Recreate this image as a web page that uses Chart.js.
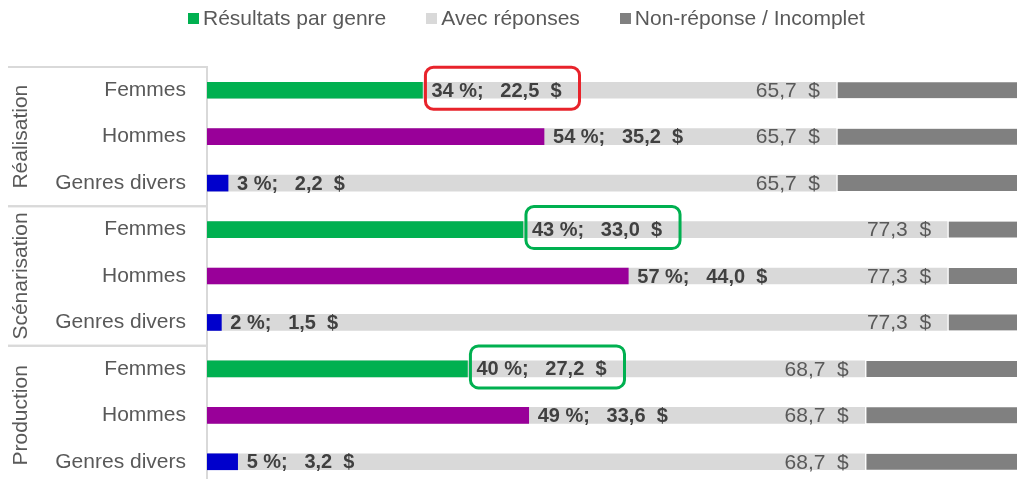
<!DOCTYPE html>
<html lang="fr">
<head>
<meta charset="utf-8">
<title>Résultats par genre</title>
<script src="https://cdn.jsdelivr.net/npm/chart.js@4.4.1/dist/chart.umd.min.js"></script>
<style>
  html, body { margin: 0; padding: 0; background: #fff; }
  #wrap { position: relative; width: 1017px; height: 479px; overflow: hidden; }
  #chart { position: absolute; left: 0; top: 0; }
  #legend {
    position: absolute; left: 188px; top: 7px; display: flex; gap: 40px;
    font: 21px "Liberation Sans", Arial, sans-serif; color: #595959; line-height: 22px;
  }
  #legend span { display: inline-flex; align-items: center; }
  #legend i { display: inline-block; width: 11px; height: 11px; margin-right: 4px; }
</style>
</head>
<body>
<div id="wrap">
  <canvas id="chart" width="1017" height="487"></canvas>
  <div id="legend"></div>
</div>
<script>
/* ── Données ── */
const GROUPS  = ['Réalisation', 'Scénarisation', 'Production'];
const GENRES  = ['Femmes', 'Hommes', 'Genres divers'];
const PCT     = [34, 54, 3, 43, 57, 2, 40, 49, 5];
const RESULT  = [22.5, 35.2, 2.2, 33.0, 44.0, 1.5, 27.2, 33.6, 3.2];
const TOTAL   = [65.7, 65.7, 65.7, 77.3, 77.3, 77.3, 68.7, 68.7, 68.7];
const X_MAX   = 84.6;   // fin visible de la barre « Non-réponse »
const SERIES  = ['Résultats par genre', 'Avec réponses', 'Non-réponse / Incomplet'];

const GENRE_COLORS = ['#00b050', '#990099', '#0000cc'];
const LIGHT = '#d9d9d9';
const DARK  = '#808080';
const FONT  = '"Liberation Sans", Arial, sans-serif';

// encadrés autour de certaines étiquettes
const HIGHLIGHTS = [
  { index: 0, color: '#e8232b' },
  { index: 3, color: '#00b050' },
  { index: 6, color: '#00b050' },
];

const LABELS = GROUPS.flatMap(() => GENRES);

/* ── Utilitaires ── */
function fmt(v) {
  return v.toFixed(1).replace('.', ',');
}

/* ── Légende ── */
function renderLegend() {
  const colors = [GENRE_COLORS[0], LIGHT, DARK];
  document.getElementById('legend').innerHTML = SERIES
    .map((s, i) => `<span><i style="background:${colors[i]}"></i>${s}</span>`)
    .join('');
}

/* ── Étiquettes des barres ── */
const barLabels = {
  id: 'barLabels',
  afterDatasetsDraw(chart) {
    const { ctx } = chart;
    const res  = chart.getDatasetMeta(0);
    const avec = chart.getDatasetMeta(1);
    ctx.save();
    ctx.textBaseline = 'middle';

    ctx.font = '21px ' + FONT;
    ctx.fillStyle = '#595959';
    ctx.textAlign = 'right';
    avec.data.forEach((bar, i) => {
      ctx.fillText(fmt(TOTAL[i]) + '  $', bar.x - 16, bar.y + 1);
    });

    ctx.font = 'bold 20px ' + FONT;
    ctx.textAlign = 'left';
    res.data.forEach((bar, i) => {
      const txt = PCT[i] + ' %;   ' + fmt(RESULT[i]) + '  $';
      ctx.fillStyle = '#404040';
      ctx.fillText(txt, bar.x + 9, bar.y + 1);
      const hl = HIGHLIGHTS.find(h => h.index === i);
      if (hl) {
        const w = ctx.measureText(txt).width;
        ctx.strokeStyle = hl.color;
        ctx.lineWidth = 3;
        ctx.beginPath();
        ctx.roundRect(bar.x + 3, bar.y - 23, w + 24, 42, 8);
        ctx.stroke();
      }
    });
    ctx.restore();
  },
};

/* ── Axe des groupes ── */
const groupAxis = {
  id: 'groupAxis',
  afterDraw(chart) {
    const { ctx, chartArea } = chart;
    const y = chart.scales.y;
    const step = y.getPixelForValue(1) - y.getPixelForValue(0);
    ctx.save();
    ctx.strokeStyle = LIGHT;
    ctx.lineWidth = 2;
    GROUPS.forEach((g, gi) => {
      const first = gi * GENRES.length;
      const last  = first + GENRES.length - 1;
      const top = y.getPixelForValue(first) - step / 2;
      const bot = y.getPixelForValue(last) + step / 2;
      [top, bot].forEach(py => {
        ctx.beginPath();
        ctx.moveTo(8, py);
        ctx.lineTo(chartArea.left - 1, py);
        ctx.stroke();
      });
      ctx.save();
      ctx.translate(21, (top + bot) / 2);
      ctx.rotate(-Math.PI / 2);
      ctx.font = '21px ' + FONT;
      ctx.fillStyle = '#595959';
      ctx.textAlign = 'center';
      ctx.textBaseline = 'middle';
      ctx.fillText(g, 0, 0);
      ctx.restore();
    });
    ctx.restore();
  },
};

/* ── Graphique ── */
function initChart() {
  const common = { barThickness: 16, grouped: false };
  new Chart(document.getElementById('chart'), {
    type: 'bar',
    data: {
      labels: LABELS,
      datasets: [
        {
          ...common,
          label: SERIES[0],
          data: RESULT,
          backgroundColor: RESULT.map((_, i) => GENRE_COLORS[i % GENRES.length]),
        },
        {
          ...common,
          label: SERIES[1],
          data: TOTAL,
          backgroundColor: LIGHT,
        },
        {
          ...common,
          label: SERIES[2],
          data: TOTAL.map(t => [t, X_MAX]),
          backgroundColor: DARK,
          borderColor: '#ffffff',
          borderWidth: { left: 2, right: 0, top: 0, bottom: 0 },
          borderSkipped: false,
        },
      ],
    },
    options: {
      indexAxis: 'y',
      responsive: false,
      animation: false,
      layout: { padding: { top: 67, left: 8, right: 0, bottom: 2 } },
      plugins: { legend: { display: false }, tooltip: { enabled: false } },
      scales: {
        x: { display: false, min: 0, max: X_MAX },
        y: {
          grid: { display: false, drawTicks: false },
          border: { display: true, color: LIGHT, width: 2 },
          ticks: { color: '#595959', padding: 21, font: { size: 21, family: FONT } },
          afterFit: s => {
            s.width = 199;
            s.paddingTop = 0;
            s.paddingBottom = 0;
          },
        },
      },
    },
    plugins: [barLabels, groupAxis],
  });
}

/* ── Init ── */
renderLegend();
initChart();
</script>
</body>
</html>
